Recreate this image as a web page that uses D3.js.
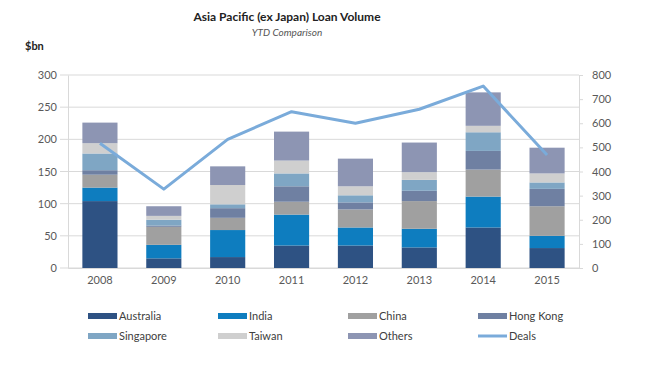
<!DOCTYPE html>
<html>
<head>
<meta charset="utf-8">
<script src="https://cdn.jsdelivr.net/npm/d3@7"></script>
<style>
  body { margin: 0; background: #fff; }
  text { font-family: Lato, "Open Sans", sans-serif; }
</style>
</head>
<body>
<script>
// data ($bn, deals count)
const years = ['2008', '2009', '2010', '2011', '2012', '2013', '2014', '2015']
const australia = [104, 15, 17, 35, 35, 32, 63, 31]
const india = [21, 21, 42, 48, 28, 29, 48, 19]
const china = [20, 28, 19, 20, 28, 43, 42, 46]
const hongKong = [7, 2, 15, 24, 11, 16, 29, 27]
const singapore = [26, 9, 6, 20, 11, 17, 29, 10]
const taiwan = [16, 6, 30, 20, 14, 12, 10, 14]
const others = [32, 15, 29, 45, 43, 46, 52, 40]
const deals = [517, 327, 533, 648, 600, 658, 754, 468]
const leftTicks = [0, 50, 100, 150, 200, 250, 300]
const rightTicks = [0, 100, 200, 300, 400, 500, 600, 700, 800]

const seriesNames = ['Australia', 'India', 'China', 'Hong Kong', 'Singapore', 'Taiwan', 'Others']
const seriesValues = [australia, india, china, hongKong, singapore, taiwan, others]
const colors = ['#2E5283', '#0E7DBF', '#A0A0A0', '#6F80A2', '#7FA6C4', '#CFCFCF', '#8D95B3']
const dealsColor = '#7AABDA'

const width = 663
const height = 378
const margin = { top: 75, bottom: 110, left: 68, right: 84 }
const innerWidth = width - margin.left - margin.right
const innerHeight = height - margin.top - margin.bottom

const svg = d3.select('body')
  .append('svg')
  .attr('width', width)
  .attr('height', height)

// titles
svg.append('text')
  .attr('x', 287).attr('y', 21)
  .attr('text-anchor', 'middle')
  .attr('font-size', 12).attr('font-weight', 'bold')
  .attr('fill', '#222')
  .text('Asia Pacific (ex Japan) Loan Volume')
svg.append('text')
  .attr('x', 287).attr('y', 36)
  .attr('text-anchor', 'middle')
  .attr('font-size', 10).attr('font-style', 'italic')
  .attr('fill', '#555')
  .text('YTD Comparison')
svg.append('text')
  .attr('x', 25).attr('y', 50)
  .attr('font-size', 11).attr('font-weight', 'bold')
  .attr('fill', '#222')
  .text('$bn')

const main = svg.append('g')
  .attr('transform', `translate(${margin.left}, ${margin.top})`)

// table for the stack
const table = years.map((y, i) => {
  const row = { year: y }
  seriesNames.forEach((s, j) => { row[s] = seriesValues[j][i] })
  return row
})
const stacked = d3.stack().keys(seriesNames)(table)

// scales
const xScale = d3.scaleBand()
  .domain(years)
  .range([0, innerWidth])
  .paddingInner(0.45)
  .paddingOuter(0.225)
const yScale = d3.scaleLinear().domain([0, 300]).range([innerHeight, 0])
const y2Scale = d3.scaleLinear().domain([0, 800]).range([innerHeight, 0])
const colorScale = d3.scaleOrdinal().domain(seriesNames).range(colors)

// gridlines
main.append('g')
  .selectAll('line')
  .data(leftTicks)
  .enter()
  .append('line')
  .attr('x1', -8).attr('x2', innerWidth)
  .attr('y1', d => yScale(d)).attr('y2', d => yScale(d))
  .attr('stroke', '#d9d9d9').attr('stroke-width', 1)

// axes
const yAxis = d3.axisLeft(yScale).tickValues(leftTicks).tickSize(0).tickPadding(11)
const yAxisG = main.append('g').call(yAxis)
yAxisG.select('.domain').attr('stroke', '#d9d9d9')

const y2Axis = d3.axisRight(y2Scale).tickValues(rightTicks).tickSize(4).tickPadding(9)
const y2AxisG = main.append('g')
  .attr('transform', `translate(${innerWidth}, 0)`)
  .call(y2Axis)
y2AxisG.select('.domain').attr('stroke', '#d9d9d9')
y2AxisG.selectAll('.tick line').attr('stroke', '#d9d9d9')

const xAxis = d3.axisBottom(xScale).tickSize(0).tickPadding(8)
const xAxisG = main.append('g')
  .attr('transform', `translate(0, ${innerHeight})`)
  .call(xAxis)
xAxisG.select('.domain').attr('stroke', '#d9d9d9')

svg.selectAll('.tick text')
  .attr('font-family', 'Lato, "Open Sans", sans-serif')
  .attr('font-size', 11)
  .attr('fill', '#595959')

// bars
main.append('g')
  .selectAll('g')
  .data(stacked)
  .enter()
  .append('g')
  .attr('fill', d => colorScale(d.key))
  .selectAll('rect')
  .data(d => d)
  .enter()
  .append('rect')
  .attr('x', d => xScale(d.data.year))
  .attr('width', xScale.bandwidth())
  .attr('y', d => yScale(d[1]))
  .attr('height', d => yScale(d[0]) - yScale(d[1]))

// deals line
const line = d3.line()
  .x((d, i) => xScale(years[i]) + xScale.bandwidth() / 2)
  .y(d => y2Scale(d))
main.append('path')
  .datum(deals)
  .attr('d', line)
  .attr('fill', 'none')
  .attr('stroke', dealsColor)
  .attr('stroke-width', 3)
  .attr('stroke-linejoin', 'round')

// legend
const legendItems = seriesNames.map((s, i) => ({ name: s, color: colors[i], type: 'rect' }))
legendItems.push({ name: 'Deals', color: dealsColor, type: 'line' })

const legend = svg.append('g').attr('transform', 'translate(88, 316)')
const item = legend.selectAll('g')
  .data(legendItems)
  .enter()
  .append('g')
  .attr('transform', (d, i) => `translate(${(i % 4) * 130}, ${Math.floor(i / 4) * 20})`)

item.filter(d => d.type === 'rect')
  .append('rect')
  .attr('x', 0).attr('y', -3)
  .attr('width', 29).attr('height', 6)
  .attr('fill', d => d.color)
item.filter(d => d.type === 'line')
  .append('line')
  .attr('x1', 0).attr('x2', 29)
  .attr('y1', 0).attr('y2', 0)
  .attr('stroke', d => d.color)
  .attr('stroke-width', 3)
item.append('text')
  .attr('x', 31).attr('y', 4)
  .attr('font-size', 11)
  .attr('fill', '#404040')
  .text(d => d.name)
</script>
</body>
</html>
